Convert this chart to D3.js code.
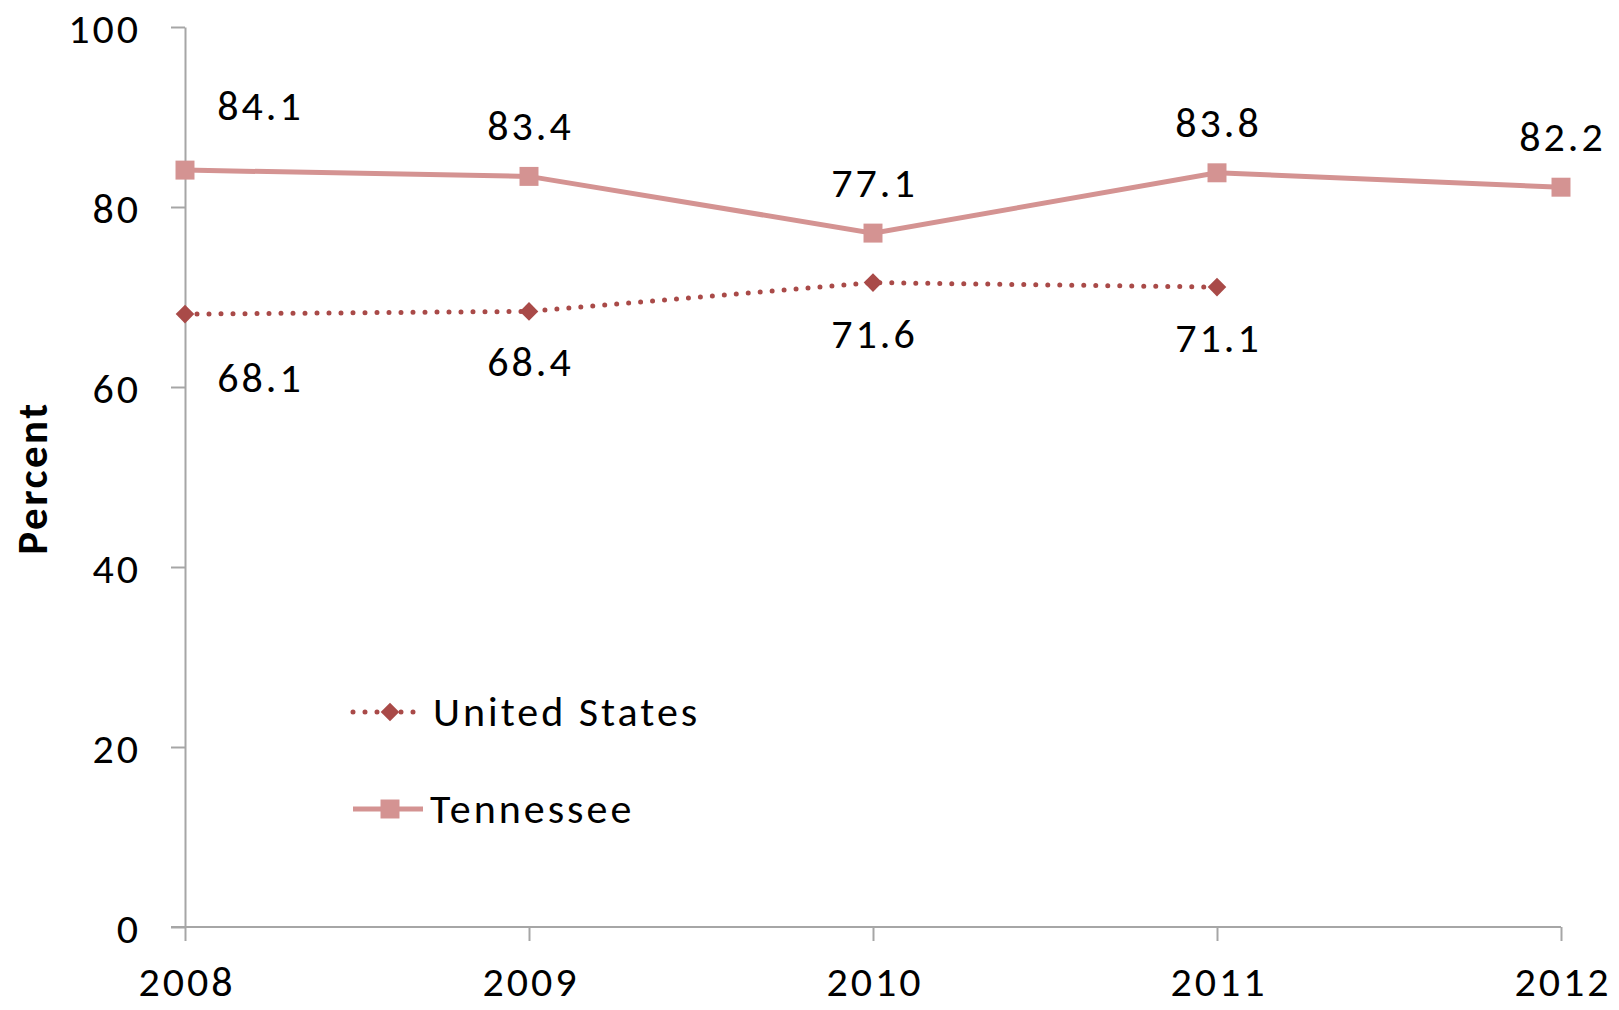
<!DOCTYPE html>
<html>
<head>
<meta charset="utf-8">
<script src="https://cdn.jsdelivr.net/npm/d3@7"></script>
<style>
  body { margin: 0; background: #fff; }
  svg text { font-family: Carlito, Calibri, Lato, sans-serif; fill: #000; letter-spacing: 3px; }
  .axis path, .axis line { stroke: #a6a6a6; stroke-width: 2; }
</style>
</head>
<body>
<svg id="chart"></svg>
<script>
// chart data
const years = [2008, 2009, 2010, 2011, 2012];
const tennessee = [84.1, 83.4, 77.1, 83.8, 82.2];
const unitedStates = [68.1, 68.4, 71.6, 71.1];
const yTicks = [0, 20, 40, 60, 80, 100];
const seriesNames = ['United States', 'Tennessee'];

const width = 1619, height = 1010;
const margin = {top: 27, right: 58, bottom: 83, left: 185};
const fontSize = '42px';

const usColor = '#a94a48';
const tnColor = '#d49392';

const svg = d3.select('#chart')
    .attr('width', width)
    .attr('height', height);

const innerW = width - margin.left - margin.right;
const innerH = height - margin.top - margin.bottom;

const chart = svg.append('g')
    .attr('transform', `translate(${margin.left},${margin.top})`);

const xScale = d3.scaleLinear()
    .domain([years[0], years[years.length - 1]])
    .range([0, innerW]);

const yScale = d3.scaleLinear()
    .domain([0, 100])
    .range([innerH, 0]);

// axes
const xAxis = d3.axisBottom(xScale)
    .tickValues(years)
    .tickFormat(d3.format('d'))
    .tickSizeInner(14)
    .tickSizeOuter(0)
    .tickPadding(25);

const yAxis = d3.axisLeft(yScale)
    .tickValues(yTicks)
    .tickSizeInner(14)
    .tickSizeOuter(0)
    .tickPadding(30);

const yAxisG = chart.append('g')
    .attr('class', 'axis y-axis')
    .call(yAxis);
yAxisG.selectAll('text').style('font-size', fontSize).attr('dy', '0.36em');

const xAxisG = chart.append('g')
    .attr('class', 'axis x-axis')
    .attr('transform', `translate(0,${innerH})`)
    .call(xAxis);
// extend x domain line left to meet the y tick
xAxisG.select('.domain').attr('d', `M-14,0H${innerW}`);
xAxisG.selectAll('text').style('font-size', fontSize).attr('dy', '0.72em').attr('dx', 1.5);

// axis title
svg.append('text')
    .attr('transform', `translate(47,${margin.top + innerH / 2 + 1}) rotate(-90)`)
    .attr('text-anchor', 'middle')
    .style('font-size', '43px')
    .style('font-weight', 'bold')
    .style('letter-spacing', '2.5px')
    .text('Percent');

// lines
const line = d3.line()
    .x((d, i) => xScale(years[i]))
    .y(d => yScale(d));

chart.append('path')
    .datum(tennessee)
    .attr('fill', 'none')
    .attr('stroke', tnColor)
    .attr('stroke-width', 5)
    .attr('d', line);

chart.append('path')
    .datum(unitedStates)
    .attr('fill', 'none')
    .attr('stroke', usColor)
    .attr('stroke-width', 5)
    .attr('stroke-linecap', 'round')
    .attr('stroke-dasharray', '0 12')
    .attr('d', line);

// markers
const square = d3.symbol().type(d3.symbolSquare).size(360);
const diamond = d3.symbol().type(d3.symbolDiamond2).size(220);

chart.selectAll('.tn-point')
    .data(tennessee)
    .join('path')
    .attr('class', 'tn-point')
    .attr('d', square)
    .attr('fill', tnColor)
    .attr('transform', (d, i) => `translate(${xScale(years[i])},${yScale(d)})`);

chart.selectAll('.us-point')
    .data(unitedStates)
    .join('path')
    .attr('class', 'us-point')
    .attr('d', diamond)
    .attr('fill', usColor)
    .attr('transform', (d, i) => `translate(${xScale(years[i])},${yScale(d)})`);

// data labels (first label nudged right of the axis)
chart.selectAll('.tn-label')
    .data(tennessee)
    .join('text')
    .attr('class', 'tn-label')
    .attr('text-anchor', 'middle')
    .style('font-size', fontSize)
    .attr('x', (d, i) => xScale(years[i]) + 1.5 + (i === 0 ? 74 : 0))
    .attr('y', (d, i) => yScale(d) - (i === 0 ? 50 : 36))
    .text(d => d.toFixed(1));

chart.selectAll('.us-label')
    .data(unitedStates)
    .join('text')
    .attr('class', 'us-label')
    .attr('text-anchor', 'middle')
    .style('font-size', fontSize)
    .attr('x', (d, i) => xScale(years[i]) + 1.5 + (i === 0 ? 74 : 0))
    .attr('y', (d, i) => yScale(d) + (i === 0 ? 78 : 65))
    .text(d => d.toFixed(1));

// legend
const legend = svg.append('g')
    .attr('transform', 'translate(353,712)');

const items = legend.selectAll('g')
    .data(seriesNames)
    .join('g')
    .attr('transform', (d, i) => `translate(0,${i * 97})`);

items.append('line')
    .attr('x1', 0).attr('x2', 70)
    .attr('stroke', (d, i) => i === 0 ? usColor : tnColor)
    .attr('stroke-width', 5)
    .attr('stroke-linecap', (d, i) => i === 0 ? 'round' : 'butt')
    .attr('stroke-dasharray', (d, i) => i === 0 ? '0 12' : null);

items.append('path')
    .attr('transform', 'translate(37,0)')
    .attr('d', (d, i) => i === 0 ? diamond() : square())
    .attr('fill', (d, i) => i === 0 ? usColor : tnColor);

items.append('text')
    .attr('x', (d, i) => i === 0 ? 80 : 77)
    .attr('dy', '0.34em')
    .style('font-size', fontSize)
    .text(d => d);
</script>
</body>
</html>
